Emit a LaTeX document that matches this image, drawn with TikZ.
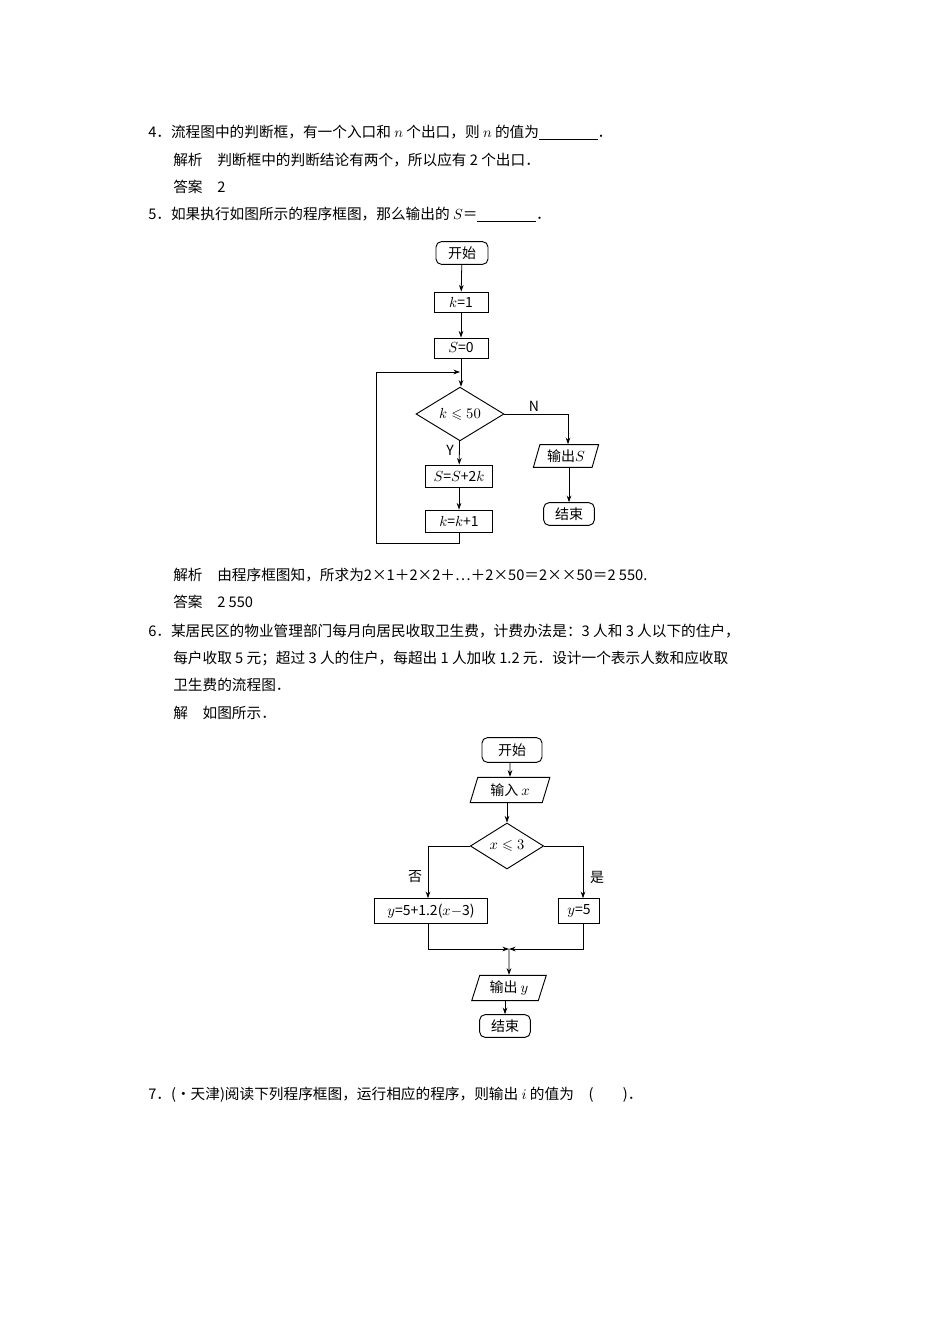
\documentclass[tikz,border=0pt]{standalone}
\usepackage{amssymb}
\usepackage{fontspec}
\setmainfont{Noto Sans CJK SC}
\usetikzlibrary{shapes.geometric,arrows.meta}
\begin{document}
\begin{tikzpicture}[x=0.75pt,y=-0.75pt,
  txt/.style={anchor=west,inner sep=0,font=\fontsize{11}{13}\selectfont},
  fc/.style={font=\fontsize{10.5}{12}\selectfont,inner sep=0,line width=0.7pt},
  rbox/.style={fc,draw,minimum width=#1,minimum height=15pt},
  term/.style={fc,draw,rounded corners=4pt,minimum width=#1,minimum height=17pt},
  dec/.style={fc,draw,diamond,minimum width=#1},
  io/.style={fc,draw,trapezium,trapezium left angle=70,trapezium right angle=110,trapezium stretches=true,minimum width=#1,minimum height=17pt},
  arr/.style={line width=0.6pt,-{Stealth[length=5pt,width=3.5pt]}},
  ln/.style={line width=0.6pt},
  lab/.style={font=\fontsize{10.5}{12}\selectfont,inner sep=0}]
\useasboundingbox (0,0) rectangle (950,1344);
\node[txt] (t1) at (148,133) {4．流程图中的判断框，有一个入口和 $n$ 个出口，则 $n$ 的值为\underline{\hspace{4em}}．};
\node[txt] (t2) at (173,160) {解析\quad 判断框中的判断结论有两个，所以应有 2 个出口．};
\node[txt] (t3) at (173,187) {答案\quad 2};
\node[txt] (t4) at (148,215) {5．如果执行如图所示的程序框图，那么输出的 $S$＝\underline{\hspace{4em}}．};
% chart 1
\node[term=39pt] (a1) at (462,253) {开始};
\node[rbox=40.5pt] (a2) at (461,302) {$k$=1};
\node[rbox=40.5pt] (a3) at (461,348) {$S$=0};
\node[dec=66pt,minimum height=37.5pt] (a4) at (460,414) {$k\leqslant 50$};
\node[rbox=50pt,minimum height=16.5pt] (a5) at (459,476) {$S$=$S$+2$k$};
\node[rbox=50pt,minimum height=16.5pt] (a6) at (459,521) {$k$=$k$+1};
\node[io=49pt] (a7) at (566,456) {输出$S$};
\node[term=38pt] (a8) at (569,514) {结束};
\coordinate (j1) at (460,372);
\coordinate (c1) at (459,543);
\coordinate (c2) at (376,543);
\coordinate (c3) at (376,372);
\coordinate (c4) at (568,414);
\draw[arr] (a1) -- (a2);
\draw[arr] (a2) -- (a3);
\draw[arr] (a3.south) -- (a3.south|-a4.north);
\draw[arr] (a4) -- (a5);
\draw[arr] (a5) -- (a6);
\draw[arr] (a6.south) -- (c1) -- (c2) -- (c3) -- (j1);
\draw[arr] (a4.east) -- (c4) -- (c4|-a7.north);
\draw[arr] (a7.south-|a8) -- (a8);
\node[lab] (nN) at (534,406) {N};
\node[lab] (nY) at (450,450) {Y};
\node[txt] (t5) at (173,575) {解析\quad 由程序框图知，所求为2×1＋2×2＋…＋2×50＝2××50＝2\ 550.};
\node[txt] (t6) at (173,602) {答案\quad 2\ 550};
\node[txt] (t7) at (148,631) {6．某居民区的物业管理部门每月向居民收取卫生费，计费办法是：3 人和 3 人以下的住户，};
\node[txt] (t8) at (173,658) {每户收取 5 元；超过 3 人的住户，每超出 1 人加收 1.2 元．设计一个表示人数和应收取};
\node[txt] (t9) at (173,685) {卫生费的流程图．};
\node[txt] (t10) at (173,713) {解\quad 如图所示．};
% chart 2
\node[term=45pt,minimum height=18.5pt] (b1) at (512,750) {开始};
\node[io=60pt,minimum height=19pt] (b2) at (510,790) {输入 $x$};
\node[dec=55pt,minimum height=28pt] (b3) at (507,846) {$x\leqslant 3$};
\node[rbox=85pt,minimum height=18.5pt] (b4) at (431,911) {$y$=5+1.2($x$$-$3)};
\node[rbox=31pt,minimum height=18.5pt] (b5) at (579,911) {$y$=5};
\node[io=56pt,minimum height=19pt] (b6) at (509,988) {输出 $y$};
\node[term=38pt,minimum height=17pt] (b7) at (505,1026) {结束};
\coordinate (l1) at (428,846);
\coordinate (r1) at (583,846);
\coordinate (m) at (509,949);
\coordinate (l2) at (428,949);
\coordinate (r2) at (583,949);
\draw[arr] (b1.south-|b2) -- (b2);
\draw[arr] (b2.south-|b3) -- (b3);
\draw[arr] (b3.west) -- (l1) -- (l1|-b4.north);
\draw[arr] (b3.east) -- (r1) -- (r1|-b5.north);
\draw[arr] (l2|-b4.south) -- (l2) -- (m);
\draw[arr] (r2|-b5.south) -- (r2) -- (m);
\draw[arr] (m) -- (b6);
\draw[arr] (b6.south-|b7) -- (b7);
\node[lab] (nf) at (415,877) {否};
\node[lab] (ns) at (597,877) {是};
\node[txt] (t11) at (148,1095) {7．(・天津)阅读下列程序框图，运行相应的程序，则输出 $i$ 的值为\quad (\qquad )．};
\end{tikzpicture}
\end{document}
